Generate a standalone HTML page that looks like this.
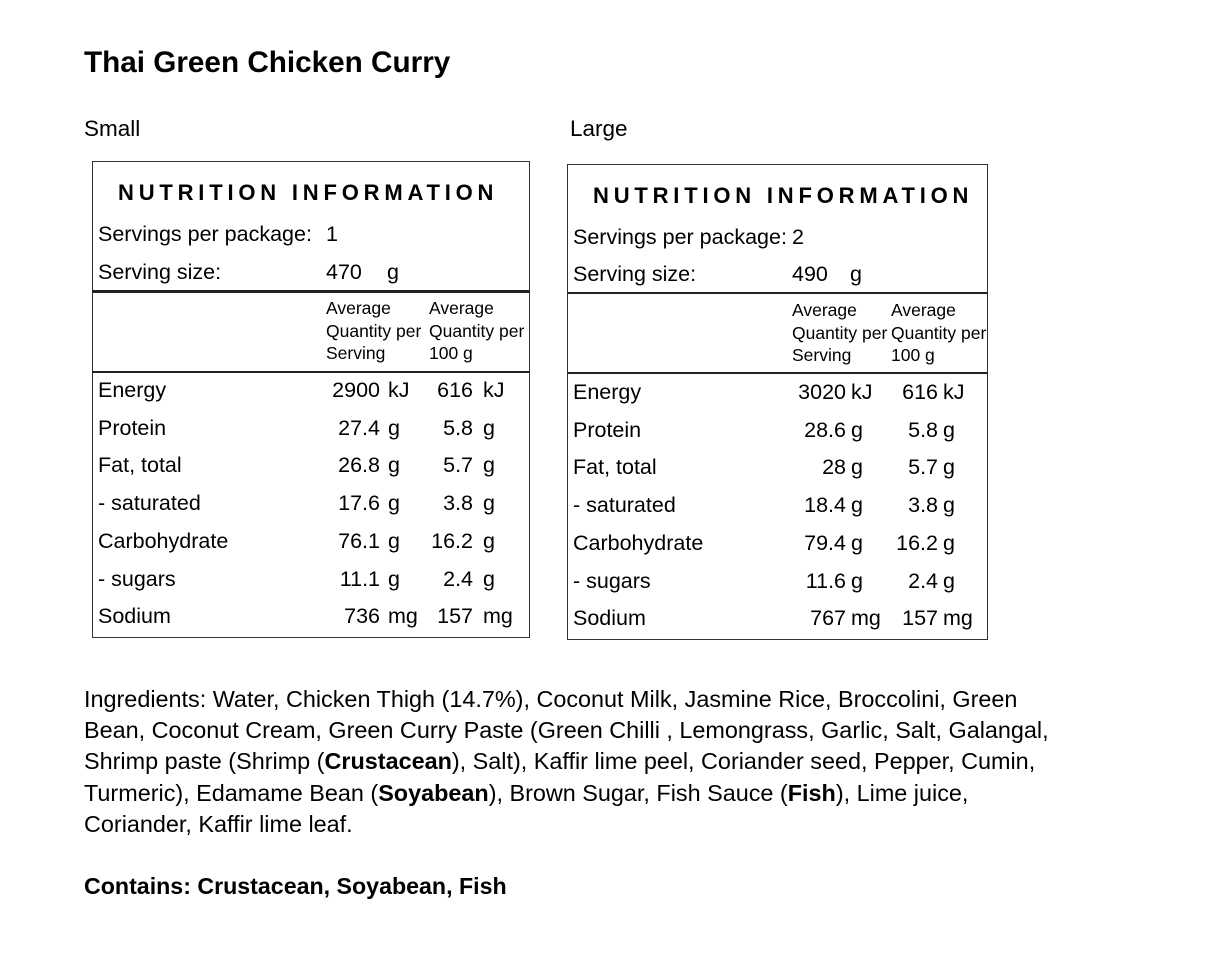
<!DOCTYPE html>
<html><head><meta charset="utf-8"><style>
body{margin:0;width:1210px;height:956px;background:#fff;font-family:"Liberation Sans",Arial,sans-serif;color:#000;position:relative;overflow:hidden}
.a{position:absolute;white-space:nowrap;line-height:24px}
.r{font-size:21.5px}
.h{font-size:17.5px;line-height:22.5px}
.t{font-size:22px;font-weight:bold;letter-spacing:4.8px}
.v{text-align:right}
.box{position:absolute;border:1.5px solid #333;box-sizing:border-box}
.ln{position:absolute;background:#222}
b{font-weight:bold}
</style></head><body>
<div class="a" style="left:84px;top:46px;font-size:29.7px;font-weight:bold;line-height:34px">Thai Green Chicken Curry</div>
<div class="a" style="left:84px;top:117px;font-size:22.5px">Small</div>
<div class="a" style="left:570px;top:117px;font-size:22.5px">Large</div>

<!-- Small -->
<div class="box" style="left:92px;top:161px;width:438px;height:477px"></div>
<div class="ln" style="left:92px;top:290px;width:438px;height:3px"></div>
<div class="ln" style="left:92px;top:371px;width:438px;height:2px"></div>
<div class="a t" style="left:118px;top:181px">NUTRITION INFORMATION</div>
<div class="a r" style="left:98px;top:222px">Servings per package:</div>
<div class="a r" style="left:326px;top:222px">1</div>
<div class="a r" style="left:98px;top:260px">Serving size:</div>
<div class="a r" style="left:326px;top:260px">470</div>
<div class="a r" style="left:387px;top:260px">g</div>
<div class="a h" style="left:326px;top:297px">Average<br>Quantity per<br>Serving</div>
<div class="a h" style="left:429px;top:297px">Average<br>Quantity per<br>100 g</div>

<div class="a r" style="left:98px;top:372px;line-height:37.7px">Energy<br>Protein<br>Fat, total<br>- saturated<br>Carbohydrate<br>- sugars<br>Sodium</div>
<div class="a r v" style="right:830px;top:372px;line-height:37.7px">2900<br>27.4<br>26.8<br>17.6<br>76.1<br>11.1<br>736</div>
<div class="a r" style="left:388px;top:372px;line-height:37.7px">kJ<br>g<br>g<br>g<br>g<br>g<br>mg</div>
<div class="a r v" style="right:737px;top:372px;line-height:37.7px">616<br>5.8<br>5.7<br>3.8<br>16.2<br>2.4<br>157</div>
<div class="a r" style="left:483px;top:372px;line-height:37.7px">kJ<br>g<br>g<br>g<br>g<br>g<br>mg</div>

<!-- Large -->
<div class="box" style="left:567px;top:164px;width:421px;height:476px"></div>
<div class="ln" style="left:567px;top:292px;width:421px;height:2px"></div>
<div class="ln" style="left:567px;top:372px;width:421px;height:2px"></div>
<div class="a t" style="left:593px;top:184px">NUTRITION INFORMATION</div>
<div class="a r" style="left:573px;top:225px">Servings per package:</div>
<div class="a r" style="left:792px;top:225px">2</div>
<div class="a r" style="left:573px;top:262px">Serving size:</div>
<div class="a r" style="left:792px;top:262px">490</div>
<div class="a r" style="left:850px;top:262px">g</div>
<div class="a h" style="left:792px;top:299px">Average<br>Quantity per<br>Serving</div>
<div class="a h" style="left:891px;top:299px">Average<br>Quantity per<br>100 g</div>

<div class="a r" style="left:573px;top:374px;line-height:37.7px">Energy<br>Protein<br>Fat, total<br>- saturated<br>Carbohydrate<br>- sugars<br>Sodium</div>
<div class="a r v" style="right:364px;top:374px;line-height:37.7px">3020<br>28.6<br>28<br>18.4<br>79.4<br>11.6<br>767</div>
<div class="a r" style="left:851px;top:374px;line-height:37.7px">kJ<br>g<br>g<br>g<br>g<br>g<br>mg</div>
<div class="a r v" style="right:272px;top:374px;line-height:37.7px">616<br>5.8<br>5.7<br>3.8<br>16.2<br>2.4<br>157</div>
<div class="a r" style="left:943px;top:374px;line-height:37.7px">kJ<br>g<br>g<br>g<br>g<br>g<br>mg</div>

<div class="a" style="left:84px;top:684px;font-size:23.4px;line-height:31.2px">Ingredients: Water, Chicken Thigh (14.7%), Coconut Milk, Jasmine Rice, Broccolini, Green<br>Bean, Coconut Cream, Green Curry Paste (Green Chilli , Lemongrass, Garlic, Salt, Galangal,<br>Shrimp paste (Shrimp (<b>Crustacean</b>), Salt), Kaffir lime peel, Coriander seed, Pepper, Cumin,<br>Turmeric), Edamame Bean (<b>Soyabean</b>), Brown Sugar, Fish Sauce (<b>Fish</b>), Lime juice,<br>Coriander, Kaffir lime leaf.</div>
<div class="a" style="left:84px;top:871px;font-size:23.2px;font-weight:bold;line-height:31px">Contains: Crustacean, Soyabean, Fish</div>
</body></html>
